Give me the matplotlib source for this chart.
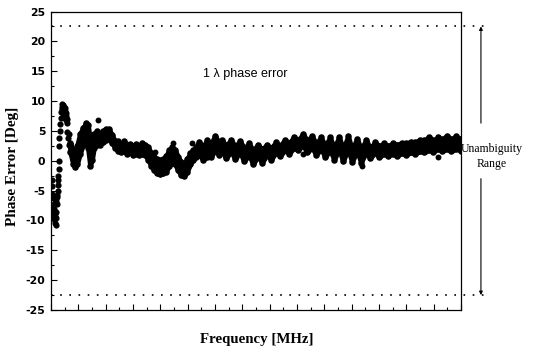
import matplotlib
matplotlib.use("Agg")
import matplotlib.pyplot as plt
from matplotlib.ticker import MultipleLocator, FixedLocator

plt.rcParams['axes.unicode_minus'] = False

# ---- data (frequency in tick-interval units, phase error in degrees) ----
early_freq = [0.02, 0.04, 0.05, 0.07, 0.08, 0.09, 0.11, 0.12, 0.13, 0.15, 0.16, 0.18,
              0.19, 0.20, 0.21, 0.22, 0.23, 0.24, 0.25, 0.26, 0.27, 0.28, 0.29, 0.30,
              0.31, 0.32, 0.33, 0.35, 0.37, 0.39, 0.40, 0.42, 0.43, 0.44, 0.46, 0.48,
              0.49, 0.51, 0.53, 0.55, 0.57, 0.58, 0.60, 0.62, 0.64, 0.66, 0.69, 0.72,
              0.03, 0.06, 0.10, 0.14, 0.17, 0.45, 0.47, 0.50, 0.52, 0.54, 0.56]
early_phase = [-3.2, -5.5, -4.2, -7.5, -6.3, -8.8, -9.8, -8.0, -7.0, -10.5, -9.3, -10.8,
               -8.5, -9.6, -7.2, -6.0, -5.8, -5.0, -4.1, -3.3, -2.5, -1.3, 0.0, 2.4,
               3.8, 5.0, 6.2, 7.2, 8.2, 9.0, 9.5, 8.6, 9.2, 8.0, 8.6, 7.6,
               8.3, 7.2, 7.8, 6.8, 7.0, 6.3, 4.8, 3.8, 2.6, 4.4, 2.8, 2.0,
               -8.2, -9.5, -7.3, -8.7, -6.8, 9.4, 9.0, 8.8, 8.3, 7.5, 8.0]

band_freq = [0.70, 0.81, 0.88, 0.95, 1.06, 1.17, 1.28, 1.35, 1.43, 1.50, 1.57, 1.68,
             1.79, 1.90, 2.01, 2.12, 2.23, 2.34, 2.45, 2.56, 2.67, 2.78, 2.89, 3.00,
             3.11, 3.22, 3.33, 3.44, 3.55, 3.66, 3.77, 3.88, 3.99, 4.10, 4.21, 4.32,
             4.43, 4.54, 4.65, 4.76, 4.87, 4.98, 5.09, 5.20, 5.31, 5.42, 5.56, 5.71,
             5.85, 6.00, 6.15, 6.26, 6.40, 6.59, 6.73, 6.92, 7.06, 7.25, 7.39, 7.57,
             7.72, 7.90, 8.05, 8.23, 8.38, 8.56, 8.71, 8.89, 9.04, 9.22, 9.37, 9.55,
             9.70, 9.88, 10.03, 10.21, 10.36, 10.54, 10.68, 10.87, 11.01, 11.20, 11.34, 11.53,
             11.67, 11.86, 12.00, 12.19, 12.33, 12.51, 12.66, 12.84, 12.99, 13.17, 13.32, 13.50,
             13.65, 13.83, 13.98, 14.16, 14.31, 14.49, 14.64, 14.82, 15.00]
band_upper = [3.0, 1.5, 1.0, 2.5, 4.5, 5.5, 6.3, 6.0, 3.5, 3.0, 4.5, 5.0,
              4.5, 5.0, 5.3, 5.3, 4.3, 3.3, 3.3, 2.8, 3.3, 2.6, 2.8, 2.4,
              2.8, 2.5, 3.0, 2.6, 2.3, 1.3, 0.6, 0.3, 0.1, 0.3, 0.8, 1.8,
              2.3, 1.8, 0.6, -0.2, -0.5, 0.3, 1.3, 1.8, 2.3, 3.2, 2.3, 3.5,
              2.8, 4.2, 3.0, 3.5, 2.5, 3.5, 2.4, 3.3, 2.1, 2.9, 1.7, 2.7,
              1.9, 2.7, 2.1, 3.1, 2.5, 3.5, 2.9, 4.0, 3.4, 4.5, 3.4, 4.1,
              2.9, 3.9, 2.5, 3.9, 2.1, 4.0, 1.9, 4.1, 1.9, 3.7, 1.9, 3.5,
              2.1, 3.1, 2.5, 2.9, 2.5, 2.9, 2.7, 3.0, 2.9, 3.2, 3.1, 3.5,
              3.4, 4.0, 3.4, 3.9, 3.6, 4.2, 3.6, 4.1, 3.6]
band_lower = [1.5, -0.6, -1.1, -0.6, 1.2, 2.7, 3.2, 2.2, -0.8, 0.2, 2.2, 2.7,
              2.7, 3.2, 3.5, 3.7, 3.0, 2.2, 1.7, 1.4, 1.7, 1.2, 1.4, 1.0,
              1.2, 1.0, 1.2, 1.0, 0.2, -0.8, -1.6, -2.1, -2.3, -2.1, -1.8, -0.8,
              -0.3, -0.6, -1.6, -2.4, -2.6, -1.8, -0.6, 0.2, 0.7, 1.0, 0.2, 0.7,
              0.7, 1.7, 1.0, 1.7, 0.4, 1.6, 0.3, 1.4, -0.1, 1.0, -0.6, 0.8,
              -0.3, 1.0, 0.2, 1.4, 0.8, 1.8, 1.2, 2.2, 1.8, 2.6, 1.4, 2.2,
              1.0, 2.0, 0.6, 1.8, 0.2, 2.0, -0.1, 2.0, -0.2, 1.7, -0.3, 1.5,
              0.4, 1.4, 0.6, 1.2, 0.8, 1.2, 0.8, 1.3, 1.0, 1.4, 1.2, 1.6,
              1.4, 1.8, 1.5, 2.0, 1.6, 2.0, 1.6, 2.0, 1.7]

stray_freq = [1.72, 3.81, 4.46, 5.16, 9.22, 11.38, 14.16]
stray_phase = [6.8, 1.4, 3.0, 3.0, 1.2, -0.8, 0.6]

unambiguity_limit = 22.5
y_ticks = [25, 20, 15, 10, 5, 0, -5, -10, -15, -20, -25]

# ---- figure ----
fig = plt.figure(figsize=(5.33, 3.53), dpi=100)
ax = fig.add_axes([0.0957, 0.1218, 0.7692, 0.8456])

ax.fill_between(band_freq, band_lower, band_upper, color='black', linewidth=3.5,
                edgecolor='black', joinstyle='round', zorder=3)
ax.scatter(band_freq, band_upper, s=22, color='black', linewidths=0, zorder=3)
ax.scatter(band_freq, band_lower, s=22, color='black', linewidths=0, zorder=3)
ax.scatter(early_freq, early_phase, s=20, color='black', linewidths=0, zorder=3)
ax.scatter(stray_freq, stray_phase, s=18, color='black', linewidths=0, zorder=3)

# unambiguity range dotted lines (extend beyond axes)
for lvl in (unambiguity_limit, -unambiguity_limit):
    ax.plot([0, 16.1], [lvl, lvl], color='black', linestyle=(0, (1, 4.5)),
            linewidth=1.2, clip_on=False, zorder=2)

# arrow for unambiguity range
xa = 15.73
ax.annotate('', xy=(xa, unambiguity_limit), xytext=(xa, 6.3),
            arrowprops=dict(arrowstyle='-|>', color='black', lw=0.8,
                            mutation_scale=5, shrinkA=0, shrinkB=0),
            annotation_clip=False)
ax.annotate('', xy=(xa, -unambiguity_limit), xytext=(xa, -3.0),
            arrowprops=dict(arrowstyle='-|>', color='black', lw=0.8,
                            mutation_scale=5, shrinkA=0, shrinkB=0),
            annotation_clip=False)
ax.text(16.13, 0.7, 'Unambiguity\nRange', ha='center', va='center',
        family='Liberation Serif', fontsize=8.5, linespacing=1.25,
        clip_on=False)

ax.text(7.1, 14.6, '1 \u03bb phase error', ha='center', va='center',
        family='Liberation Sans', fontsize=9)

ax.set_xlim(0, 15)
ax.set_ylim(-25, 25)
ax.xaxis.set_major_locator(MultipleLocator(1))
ax.xaxis.set_minor_locator(MultipleLocator(0.5))
ax.set_xticklabels([])
ax.yaxis.set_major_locator(FixedLocator(y_ticks))
ax.yaxis.set_minor_locator(MultipleLocator(2.5))
ax.set_yticks(y_ticks)
ax.set_yticklabels([str(v) for v in y_ticks], family='DejaVu Sans',
                   fontweight='bold', fontsize=7.8)
ax.tick_params(axis='both', which='major', direction='in', length=4.5, width=0.8,
               top=False, right=False, pad=4)
ax.tick_params(axis='both', which='minor', direction='in', length=2.5, width=0.8,
               top=False, right=False)
for s in ax.spines.values():
    s.set_linewidth(0.9)

fig.text(13 / 533, 1 - 166 / 353, 'Phase Error [Deg]', rotation=90,
         ha='center', va='center', family='Liberation Serif',
         fontweight='bold', fontsize=11)
fig.text(257 / 533, 1 - 339 / 353, 'Frequency [MHz]', ha='center', va='center',
         family='Liberation Serif', fontweight='bold', fontsize=10.7)

fig.savefig('out.png', dpi=100)
